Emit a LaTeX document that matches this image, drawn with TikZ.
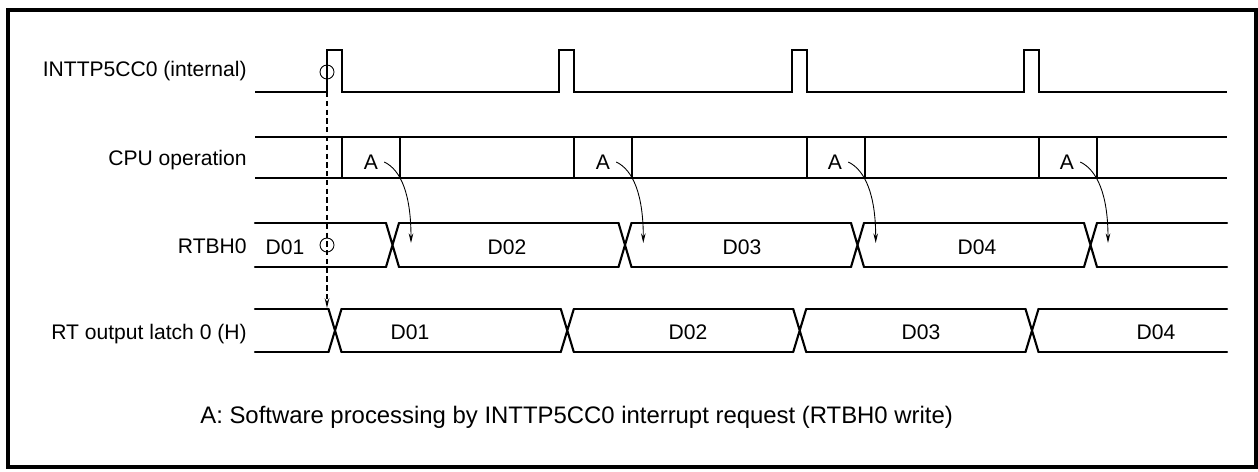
\documentclass[tikz,border=0pt]{standalone}
\usepackage{fontspec}
\setmainfont{Liberation Sans}
\usetikzlibrary{arrows.meta,positioning}
\tikzset{
      outerbox/.style={line width=1.8pt},
      sig/.style={line width=1.2pt, line join=miter},
      bus/.style={line width=1.2pt, line cap=round},
      siglabel/.style={anchor=east, inner sep=0pt, font=\fontsize{12}{14}\selectfont},
      datatext/.style={font=\fontsize{12}{14}\selectfont},
      ring/.style={circle, draw, line width=0.5pt, minimum size=0.28cm, inner sep=0pt},
      flow/.style={-{Stealth[length=5.5pt,width=2.6pt]}, line width=0.5pt},
      trig/.style={-{Stealth[length=5.5pt,width=2.6pt]}, line width=0.8pt, dash pattern=on 3pt off 2pt}
    }
\begin{document}
\begin{tikzpicture}[x=0.02cm,y=-0.02cm]
    \useasboundingbox (0,0) rectangle (1258,471);
    \draw[outerbox] (8,10) rectangle (1256,467);
    % signal names
    \node[siglabel] (lint) at (247,71) {INTTP5CC0 (internal)};
    \node[siglabel] (lcpu) at (247,160) {CPU operation};
    \node[siglabel] (lrtb) at (247,246) {RTBH0};
    \node[siglabel] (llat) at (247,334) {RT output latch 0 (H)};
    % interrupt pulses
    \draw[sig] (255,92) foreach \p in {327,559.3,791.7,1024} { -- (\p,92) -- (\p,50) -- ({\p+15},50) -- ({\p+15},92) } -- (1227,92);
    % CPU operation
    \draw[sig] (255,137) -- (1227,137) (255,178) -- (1227,178);
    \foreach \p in {327,559.3,791.7,1024}
      \draw[sig] ({\p+15},137) -- ({\p+15},178) ({\p+73},137) -- ({\p+73},178);
    % RTBH0
    \foreach \a/\b in {255/386,399/618.5,631.5/851,864/1084,1097/1227}
      \draw[bus] (\a,223) -- (\b,223) (\a,267) -- (\b,267);
    \foreach \c in {392.5,625,857.5,1090.5}
      \draw[bus] ({\c-6.5},223) -- ({\c+6.5},267) ({\c-6.5},267) -- ({\c+6.5},223);
    \node[datatext] (r1) at (285,247) {D01};
    \node[datatext] (r2) at (507,247) {D02};
    \node[datatext] (r3) at (742,247) {D03};
    \node[datatext] (r4) at (977,247) {D04};
    % RT output latch
    \foreach \a/\b in {255/328.5,341.5/560.8,573.8/793.2,806.2/1025.5,1038.5/1227}
      \draw[bus] (\a,309) -- (\b,309) (\a,352) -- (\b,352);
    \foreach \c in {335,567.3,799.7,1032}
      \draw[bus] ({\c-6.5},309) -- ({\c+6.5},352) ({\c-6.5},352) -- ({\c+6.5},309);
    \node[datatext] (q1) at (410,332) {D01};
    \node[datatext] (q2) at (688,332) {D02};
    \node[datatext] (q3) at (921,332) {D03};
    \node[datatext] (q4) at (1156,332) {D04};
    % trigger marks
    \node[ring] (o1) at (327,72) {};
    \node[ring] (o2) at (327,245) {};
    \coordinate (t0) at (327,92);
    \coordinate (t1) at (327,308);
    \draw[trig] (t0) -- (t1);
    % software writes
    \foreach \i/\ax/\tx in {1/371/411,2/603/643.3,3/835/875.7,4/1067/1108} {
      \node[datatext] (a\i) at (\ax,162) {A};
      \coordinate (w\i) at (\tx,243);
      \draw[flow] (a\i.east) .. controls +(17,8) and +(0,-48) .. (w\i);
    }
    \node[anchor=west, inner sep=0pt, font=\fontsize{13.6}{16}\selectfont] (note) at (200,417) {A: Software processing by INTTP5CC0 interrupt request (RTBH0 write)};
    \end{tikzpicture}
\end{document}
